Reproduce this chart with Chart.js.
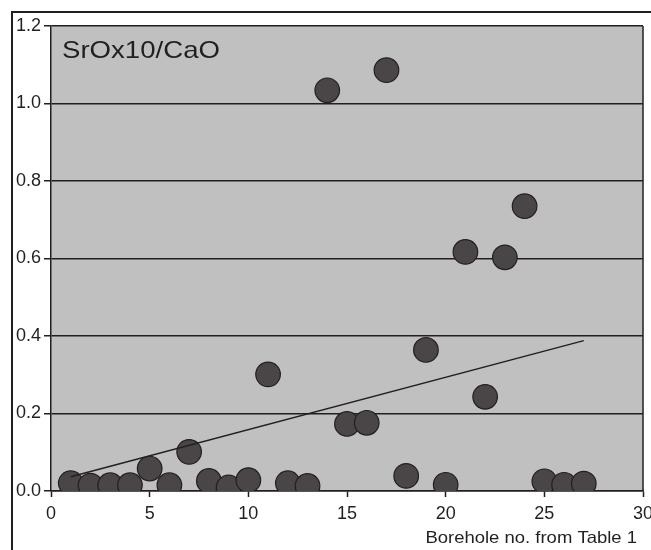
<!DOCTYPE html>
<html>
<head>
<meta charset="utf-8">
<script src="https://cdn.jsdelivr.net/npm/chart.js@4.4.1/dist/chart.umd.min.js"></script>
<style>
  html, body { margin: 0; padding: 0; background: #ffffff; }
  #wrap { width: 651px; height: 550px; position: relative; }
</style>
</head>
<body>
<div id="wrap"><canvas id="c" width="651" height="550"></canvas></div>
<script>
// Data
const boreholes = [1, 2, 3, 4, 5, 6, 7, 8, 9, 10, 11, 12, 13, 14, 15, 16, 17, 18, 19, 20, 21, 22, 23, 24, 25, 26, 27];
const ratios = [0.020, 0.014, 0.015, 0.015, 0.058, 0.015, 0.101, 0.026, 0.009, 0.028, 0.301, 0.020, 0.013, 1.034, 0.173, 0.176, 1.086, 0.039, 0.364, 0.016, 0.617, 0.243, 0.603, 0.735, 0.025, 0.016, 0.019];
const trendX = [1, 27];
const trendY = [0.037, 0.388];
const xTicks = [0, 5, 10, 15, 20, 25, 30];
const yTicks = [0.0, 0.2, 0.4, 0.6, 0.8, 1.0, 1.2];
const seriesLabel = 'SrOx10/CaO';
const xAxisTitle = 'Borehole no. from Table 1';

const INK = '#231f20';
const FONT = "'Liberation Sans', Arial, sans-serif";

const scatterPts = boreholes.map((b, i) => ({ x: b, y: ratios[i] }));
const trendPts = trendX.map((x, i) => ({ x: x, y: trendY[i] }));

const decor = {
  id: 'decor',
  beforeDraw(chart) {
    const { ctx, chartArea: a } = chart;
    ctx.save();
    ctx.fillStyle = '#c0c0c0';
    ctx.fillRect(a.left, a.top, a.right - a.left, a.bottom - a.top);
    ctx.restore();
  },
  afterDraw(chart) {
    const { ctx, chartArea: a } = chart;
    ctx.save();
    ctx.strokeStyle = INK;
    ctx.lineWidth = 1.5;
    ctx.beginPath();
    ctx.moveTo(a.right, a.top);
    ctx.lineTo(a.right, a.bottom);
    ctx.stroke();
    // outer frame
    ctx.lineWidth = 2;
    ctx.beginPath();
    ctx.moveTo(12, 550);
    ctx.lineTo(12, 12);
    ctx.lineTo(651, 12);
    ctx.stroke();
    ctx.fillStyle = INK;
    ctx.textBaseline = 'alphabetic';
    ctx.textAlign = 'left';
    ctx.save();
    ctx.translate(62, 58);
    ctx.scale(1.15, 1);
    ctx.font = '24px ' + FONT;
    ctx.fillText(seriesLabel, 0, 0);
    ctx.restore();
    ctx.save();
    ctx.translate(637, 543);
    ctx.scale(1.12, 1);
    ctx.textAlign = 'right';
    ctx.font = '16.5px ' + FONT;
    ctx.fillText(xAxisTitle, 0, 0);
    ctx.restore();
    ctx.restore();
  }
};

new Chart(document.getElementById('c'), {
  type: 'scatter',
  data: {
    datasets: [
      {
        type: 'line',
        data: trendPts,
        borderColor: INK,
        borderWidth: 1.5,
        pointRadius: 0,
        fill: false,
        order: 0
      },
      {
        type: 'scatter',
        data: scatterPts,
        backgroundColor: '#4a4546',
        borderColor: INK,
        borderWidth: 1.2,
        pointRadius: 12.3,
        pointHoverRadius: 12.3,
        order: 1
      }
    ]
  },
  options: {
    responsive: false,
    animation: false,
    devicePixelRatio: 1,
    layout: { autoPadding: false, padding: { left: 0, top: 26, right: 8, bottom: 0 } },
    plugins: { legend: { display: false }, tooltip: { enabled: false }, title: { display: false } },
    scales: {
      x: {
        type: 'linear',
        min: 0,
        max: 30,
        afterBuildTicks(scale) { scale.ticks = xTicks.map(v => ({ value: v })); },
        afterFit(scale) { scale.height = 59; scale.paddingRight = 0; scale.paddingLeft = 0; },
        ticks: {
          color: INK,
          font: { family: FONT, size: 18 },
          padding: 6,
          maxRotation: 0,
          callback: v => String(v)
        },
        grid: { drawOnChartArea: false, drawTicks: true, tickLength: 6, tickColor: INK, tickWidth: 1.5 },
        border: { display: true, color: INK, width: 1.5 }
      },
      y: {
        type: 'linear',
        min: 0,
        max: 1.2,
        afterBuildTicks(scale) { scale.ticks = yTicks.map(v => ({ value: v })); },
        afterFit(scale) { scale.width = 51; scale.paddingTop = 0; scale.paddingBottom = 0; },
        ticks: {
          color: INK,
          font: { family: FONT, size: 18 },
          padding: 3,
          callback: v => Number(v).toFixed(1)
        },
        grid: { color: INK, lineWidth: 1.5, drawTicks: true, tickLength: 7, tickColor: INK, tickWidth: 1.5 },
        border: { display: true, color: INK, width: 1.5 }
      }
    }
  },
  plugins: [decor]
});
</script>
</body>
</html>
